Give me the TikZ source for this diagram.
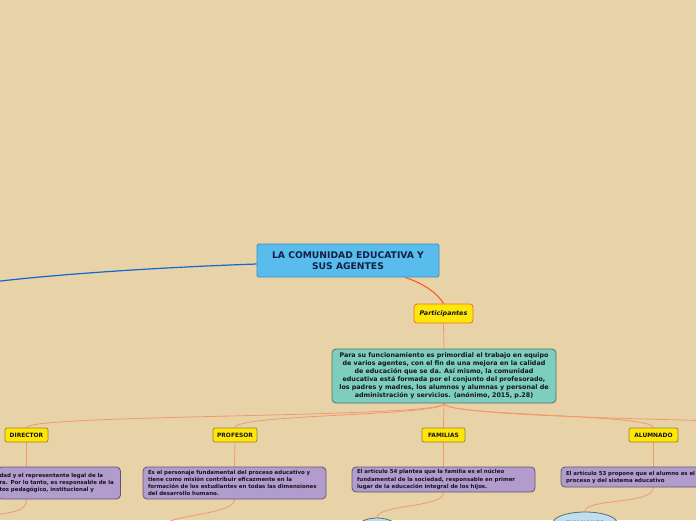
\documentclass[tikz,border=0pt]{standalone}
\usepackage{fontspec}
\setmainfont{DejaVu Sans}
\usetikzlibrary{shapes.geometric,calc}
\definecolor{bgtan}{RGB}{232,211,168}
\definecolor{mainblue}{RGB}{88,189,236}
\definecolor{mainborder}{RGB}{60,140,195}
\definecolor{navy}{RGB}{20,30,70}
\definecolor{linkblue}{RGB}{20,100,210}
\definecolor{linkorange}{RGB}{255,90,40}
\definecolor{linksalmon}{RGB}{244,150,110}
\definecolor{yel}{RGB}{255,230,10}
\definecolor{yelborder}{RGB}{150,130,40}
\definecolor{partborder}{RGB}{240,110,40}
\definecolor{tealfill}{RGB}{126,206,192}
\definecolor{tealborder}{RGB}{90,110,100}
\definecolor{purp}{RGB}{178,155,205}
\definecolor{purpborder}{RGB}{100,85,110}
\definecolor{lblue}{RGB}{192,222,242}
\definecolor{ink}{RGB}{20,20,30}
\pgfdeclarelayer{bg}
\pgfsetlayers{bg,main}
\tikzset{
  titlebox/.style={draw=mainborder, line width=0.8pt, fill=mainblue, rounded corners=1.5pt,
    minimum width=182pt, minimum height=33pt, inner sep=0pt, align=center,
    font=\fontsize{9.2}{11.5}\selectfont\bfseries, text=navy},
  partbox/.style={draw=partborder, line width=0.8pt, fill=yel, rounded corners=3pt,
    minimum width=59pt, minimum height=19pt, inner sep=0pt,
    font=\fontsize{6.4}{8}\selectfont\bfseries\itshape, text=ink},
  tealbox/.style={draw=tealborder, line width=0.8pt, fill=tealfill, rounded corners=4pt,
    minimum width=224pt, minimum height=54pt, inner sep=0pt, align=center,
    font=\fontsize{6.35}{8}\selectfont\bfseries, text=ink},
  tagbox/.style={draw=yelborder, line width=0.7pt, fill=yel, rounded corners=2pt,
    minimum height=14pt, inner sep=0pt,
    font=\fontsize{5.9}{7}\selectfont\bfseries, text=ink},
  purpbox/.style={draw=purpborder, line width=0.8pt, fill=purp, rounded corners=4pt,
    inner sep=0pt, inner xsep=5pt, align=left,
    font=\fontsize{5.45}{7.2}\selectfont\bfseries, text=ink},
  ellbox/.style={ellipse, draw=tealborder, line width=0.8pt, fill=lblue, inner sep=0pt,
    font=\fontsize{5.8}{7}\selectfont\bfseries, text=ink},
  bluelink/.style={draw=linkblue, line width=1.2pt},
  orangelink/.style={draw=linkorange, line width=1.1pt},
  salmonlink/.style={draw=linksalmon, line width=0.8pt},
}
\begin{document}
\begin{tikzpicture}[x=1pt,y=-1pt]
\useasboundingbox (0,0) rectangle (696,520);

\node[titlebox] (main) at (348,260.5) {LA COMUNIDAD EDUCATIVA Y\\SUS AGENTES};
\node[partbox] (part) at (443.5,313.5) {Participantes};
\node[tealbox] (teal) at (444,376) {Para su funcionamiento es primordial el trabajo en equipo\\
de varios agentes, con el fin de una mejora en la calidad\\
de educación que se da. Así mismo, la comunidad\\
educativa está formada por el conjunto del profesorado,\\
los padres y madres, los alumnos y alumnas y personal de\\
administración y servicios. (anónimo, 2015, p.28)};

\node[tagbox, minimum width=43pt] (dir) at (26.5,435) {DIRECTOR};
\node[tagbox, minimum width=44pt] (prof) at (235,435) {PROFESOR};
\node[tagbox, minimum width=43pt] (fam) at (443.5,435) {FAMILIAS};
\node[tagbox, minimum width=49pt] (alu) at (653.5,435) {ALUMNADO};

\node[purpbox, inner xsep=2pt, minimum width=123pt, minimum height=32pt, text width=119pt] (dirtxt) at (59,483)
  {dad y el representante legal de la\\ra. Por lo tanto, es responsable de la\\tos pedagógico, institucional y};
\node[purpbox, minimum width=183pt, minimum height=32pt, text width=173pt] (proftxt) at (234.5,483)
  {Es el personaje fundamental del proceso educativo y\\tiene como misión contribuir eficazmente en la\\formación de los estudiantes en todas las dimensiones\\del desarrollo humano.};
\node[purpbox, minimum width=183pt, minimum height=25pt, text width=173pt] (famtxt) at (443.5,479.5)
  {El artículo 54 plantea que la familia es el núcleo\\fundamental de la sociedad, responsable en primer\\lugar de la educación integral de los hijos.};
\node[purpbox, minimum width=160pt, minimum height=20pt, text width=150pt] (alutxt) at (641,477)
  {El artículo 53 propone que el alumno es el\\proceso y del sistema educativo};

\node[ellbox, minimum width=40pt, minimum height=20pt] (famell) at (377,528) {};
\node[ellbox, minimum width=64pt, minimum height=22pt] (aluell) at (585,523) {FUNCIONES};

\coordinate (offleft) at (-4,281.5);
\coordinate (offright) at (720,421);
\coordinate (dirdown) at (-4,515);
\coordinate (profdown) at (170,521);

\begin{pgfonlayer}{bg}
\fill[bgtan] (0,0) rectangle (696,520);
\draw[bluelink] ($(main.west)+(0,3.5)$) .. controls (170,267) and (70,273) .. (offleft);
\draw[orangelink] ($(main.south)+(57,0)$) .. controls (425,284) and (438,294) .. (part.north);
\draw[salmonlink] (part.south) -- (teal.north);
\draw[salmonlink] (teal.south) .. controls (444,418) and (27,414) .. (dir.north);
\draw[salmonlink] (teal.south) .. controls (444,416) and (235,414) .. (prof.north);
\draw[salmonlink] (teal.south) -- (fam.north);
\draw[salmonlink] (teal.south) .. controls (444,416) and (653,414) .. (alu.north);
\draw[salmonlink] (teal.south) .. controls (444,414) and (600,418) .. (offright);
\draw[salmonlink] (dir.south) -- (dir.south |- dirtxt.north);
\draw[salmonlink] (prof.south) -- (proftxt.north);
\draw[salmonlink] (fam.south) -- (famtxt.north);
\draw[salmonlink] (alu.south) -- (alu.south |- alutxt.north);
\draw[salmonlink] (dir.south |- dirtxt.south) .. controls (27,512) and (10,512) .. (dirdown);
\draw[salmonlink] (proftxt.south) .. controls (235,512) and (190,514) .. (profdown);
\draw[salmonlink] (famtxt.south) .. controls (444,508) and (378,504) .. (famell.north);
\draw[salmonlink] (alu.south |- alutxt.south) .. controls (653,505) and (585,498) .. (aluell.north);
\end{pgfonlayer}
\end{tikzpicture}
\end{document}
